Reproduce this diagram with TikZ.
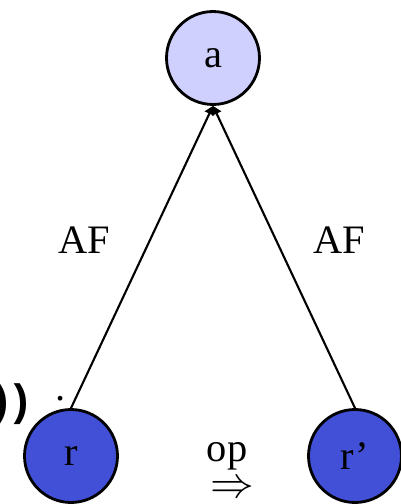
\documentclass[tikz,border=0pt]{standalone}
\usepackage{fontspec}
\setmainfont{Liberation Serif}
\setmonofont{Liberation Mono}
\usetikzlibrary{arrows.meta, positioning, calc}
\definecolor{topfill}{RGB}{208,208,255}
\definecolor{botfill}{RGB}{66,80,216}

\begin{document}
\begin{tikzpicture}[x=0.02cm, y=-0.02cm,
    font=\fontsize{23}{27}\selectfont,
    state/.style={circle, draw=black, line width=1.6pt, minimum size=1.86cm, inner sep=0pt},
    link/.style={line width=1.2pt, -{Triangle[length=0.17cm, width=0.2cm]}}]
  \useasboundingbox (0,0) rectangle (401,504);

  % states
  \node[state, fill=topfill] (a) at (213,58) {a};
  \node[state, fill=botfill] (r) at (71,456) {r};
  \node[state, fill=botfill] (rp) at (355,456) {r’};

  % arrows into a
  \draw[link] (r.north) -- (a.south);
  \draw[link] (rp.north) -- (a.south);
  \node (afl) at (84,240) {AF};
  \node (afr) at (339,240) {AF};

  % step between r and r'
  \node[inner sep=0pt] (op) at (227,456) {op};
  \node[inner sep=0pt, below=6pt of op.south, xshift=0.1cm] (imp) {$\Rightarrow$};

  % leftover of cut text
  \node[font=\fontsize{25}{27}\selectfont\ttfamily\bfseries, anchor=east, inner sep=0pt] (cut) at (34,404) {)\kern-3.7pt)};
  \node[inner sep=0pt] (dot) at (61,399) {.};
\end{tikzpicture}
\end{document}
